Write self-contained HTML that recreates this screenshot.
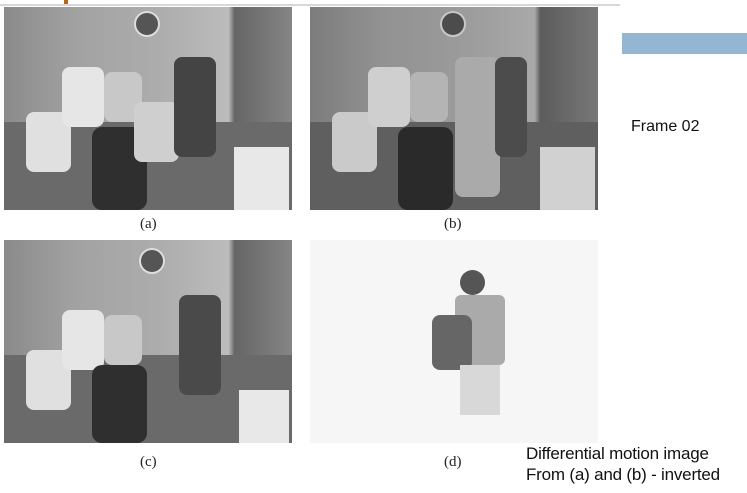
<!DOCTYPE html>
<html><head><style>
body{margin:0;width:747px;height:493px;background:#fff;position:relative;overflow:hidden;font-family:"Liberation Sans",sans-serif}
.a{position:absolute}
.ph{position:absolute;width:288px;height:203px;background:linear-gradient(90deg,#8a8a8a 0%,#a2a2a2 25%,#adadad 55%,#bcbcbc 78%,#666 80%,#858585 100%);overflow:hidden}
.ph i{position:absolute;display:block}
.lab{position:absolute;font-family:"Liberation Serif",serif;font-size:15px;color:#222}
</style></head><body>
<div class="a" style="left:0;top:4px;width:620px;height:2px;background:#d8d8d8"></div>
<div class="a" style="left:64px;top:0;width:4px;height:4px;background:#b5651d"></div>
<div class="a" style="left:622px;top:33px;width:125px;height:21px;background:#93b6d2"></div>
<div class="a" style="left:631px;top:118px;font-size:16px;color:#111">Frame 02</div>

<!-- (a) -->
<div class="ph" style="left:4px;top:7px">
<i style="left:0;top:115px;width:288px;height:88px;background:#6a6a6a"></i>
<i style="left:130px;top:4px;width:22px;height:22px;border-radius:50%;background:#555;border:2px solid #ddd"></i>
<i style="left:22px;top:105px;width:45px;height:60px;background:#e0e0e0;border-radius:8px"></i>
<i style="left:58px;top:60px;width:42px;height:60px;background:#e6e6e6;border-radius:8px"></i>
<i style="left:100px;top:65px;width:38px;height:50px;background:#c8c8c8;border-radius:8px"></i>
<i style="left:88px;top:120px;width:55px;height:83px;background:#2f2f2f;border-radius:10px"></i>
<i style="left:130px;top:95px;width:45px;height:60px;background:#cfcfcf;border-radius:8px"></i>
<i style="left:170px;top:50px;width:42px;height:100px;background:#444;border-radius:8px"></i>
<i style="left:230px;top:140px;width:55px;height:63px;background:#e8e8e8"></i>
</div>
<!-- (b) -->
<div class="ph" style="left:310px;top:7px;filter:brightness(.9)">
<i style="left:0;top:115px;width:288px;height:88px;background:#6a6a6a"></i>
<i style="left:130px;top:4px;width:22px;height:22px;border-radius:50%;background:#555;border:2px solid #ddd"></i>
<i style="left:22px;top:105px;width:45px;height:60px;background:#e0e0e0;border-radius:8px"></i>
<i style="left:58px;top:60px;width:42px;height:60px;background:#e6e6e6;border-radius:8px"></i>
<i style="left:100px;top:65px;width:38px;height:50px;background:#c8c8c8;border-radius:8px"></i>
<i style="left:88px;top:120px;width:55px;height:83px;background:#2f2f2f;border-radius:10px"></i>
<i style="left:145px;top:50px;width:45px;height:140px;background:#bdbdbd;border-radius:8px"></i>
<i style="left:185px;top:50px;width:32px;height:100px;background:#555;border-radius:8px"></i>
<i style="left:230px;top:140px;width:55px;height:63px;background:#e8e8e8"></i>
</div>
<!-- (c) -->
<div class="ph" style="left:4px;top:240px">
<i style="left:0;top:115px;width:288px;height:88px;background:#6a6a6a"></i>
<i style="left:135px;top:8px;width:22px;height:22px;border-radius:50%;background:#555;border:2px solid #ddd"></i>
<i style="left:22px;top:110px;width:45px;height:60px;background:#e0e0e0;border-radius:8px"></i>
<i style="left:58px;top:70px;width:42px;height:60px;background:#e6e6e6;border-radius:8px"></i>
<i style="left:100px;top:75px;width:38px;height:50px;background:#c8c8c8;border-radius:8px"></i>
<i style="left:88px;top:125px;width:55px;height:78px;background:#2f2f2f;border-radius:10px"></i>
<i style="left:175px;top:55px;width:42px;height:100px;background:#4a4a4a;border-radius:8px"></i>
<i style="left:235px;top:150px;width:50px;height:53px;background:#e8e8e8"></i>
</div>
<!-- (d) -->
<div class="a" style="left:310px;top:240px;width:288px;height:203px;background:#f6f6f6">
<i class="a" style="left:150px;top:30px;width:25px;height:25px;border-radius:50%;background:#555"></i>
<i class="a" style="left:145px;top:55px;width:50px;height:70px;background:#aaa;border-radius:6px"></i>
<i class="a" style="left:122px;top:75px;width:40px;height:55px;background:#666;border-radius:8px"></i>
<i class="a" style="left:150px;top:125px;width:40px;height:50px;background:#d8d8d8"></i>
</div>

<div class="lab" style="left:140px;top:216px">(a)</div>
<div class="lab" style="left:444px;top:216px">(b)</div>
<div class="lab" style="left:140px;top:454px">(c)</div>
<div class="lab" style="left:444px;top:454px">(d)</div>
<div class="a" style="left:526px;top:443px;font-size:17px;line-height:21px;color:#111;letter-spacing:-0.2px">Differential motion image<br>From (a) and (b) - inverted</div>
</body></html>
